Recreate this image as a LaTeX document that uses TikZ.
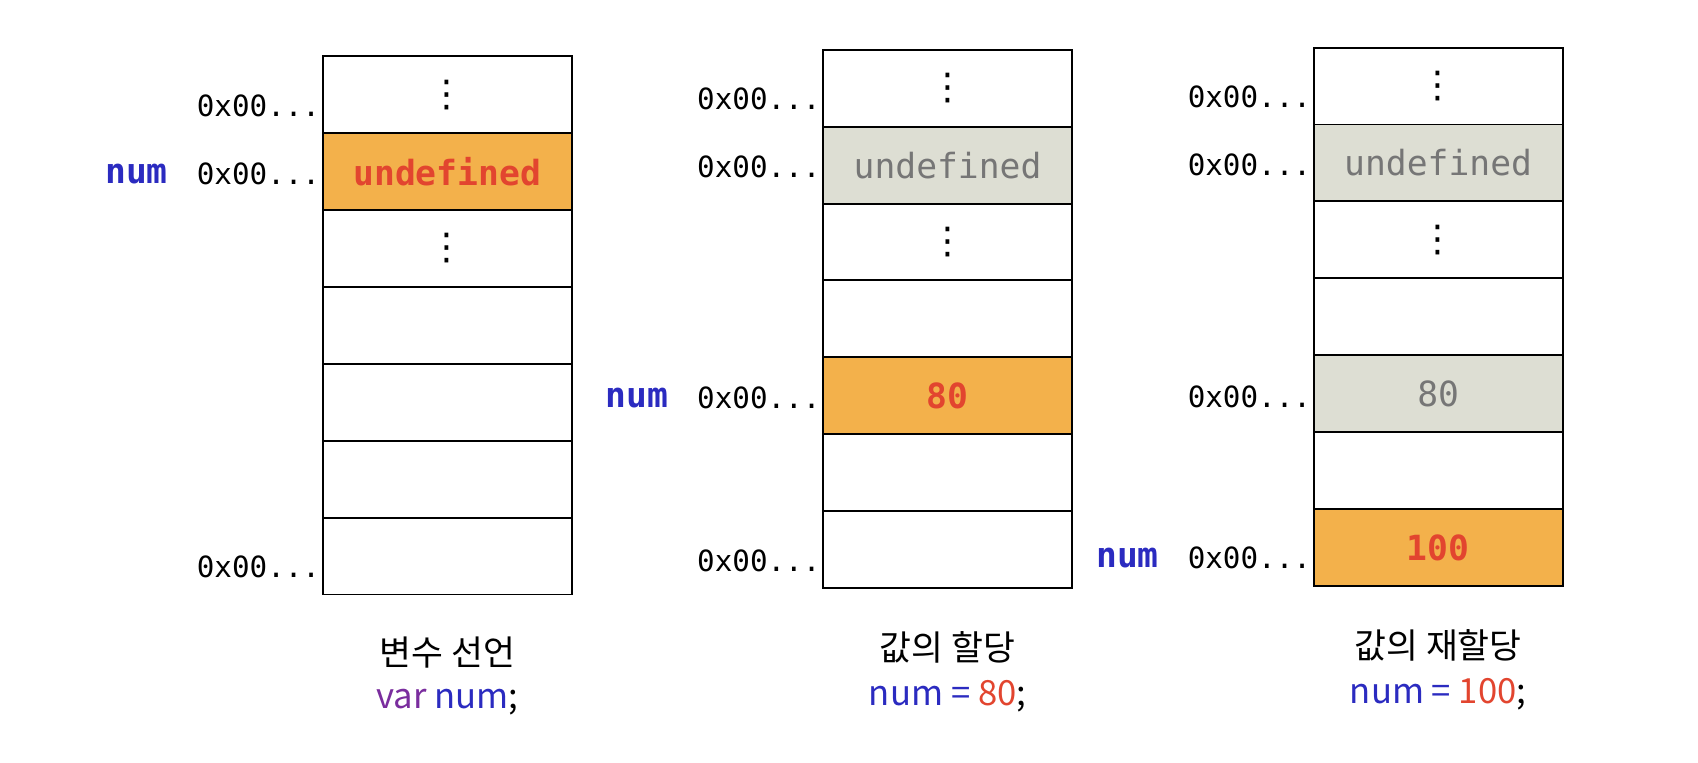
\documentclass[tikz,border=0pt]{standalone}
\usepackage{fontspec}
\usetikzlibrary{positioning}

\newfontfamily\monofont{DejaVu Sans Mono}
\newfontfamily\dotfont{DejaVu Sans}
\newfontfamily\krfont{Noto Sans CJK KR}

\definecolor{cellorange}{HTML}{F3B14B}
\definecolor{cellgray}{HTML}{DDDED3}
\definecolor{valred}{HTML}{E2452F}
\definecolor{numblue}{HTML}{2B2BC0}
\definecolor{varpurple}{HTML}{7A2D9E}
\definecolor{oldgray}{HTML}{767676}

\tikzset{
	cell/.style={draw=black, line width=0.9pt, minimum width=115pt, minimum height=35.5pt, inner sep=0pt, outer sep=0pt, font=\monofont\fontsize{16}{18}\selectfont},
	used/.style={cell, fill=cellorange, text=valred, font=\monofont\bfseries\fontsize{16}{18}\selectfont},
	old/.style={cell, fill=cellgray, text=oldgray},
	dots/.style={cell, font=\dotfont\fontsize{17}{19}\selectfont},
	addr/.style={anchor=east, inner sep=1pt, font=\monofont\fontsize{13.5}{16}\selectfont},
	numlbl/.style={inner sep=1pt, text=numblue, font=\monofont\bfseries\fontsize{16}{18}\selectfont},
	caption/.style={inner sep=1pt, font=\krfont\fontsize{16}{19}\selectfont},
}

\begin{document}
\begin{tikzpicture}[x=0.5pt,y=0.5pt,yscale=-1,xscale=1]
				\useasboundingbox (0,0) rectangle (1568,704);

				%Memory: variable declaration
				\node[dots] (a1) at (413,87.5) {⋮};
				\node[used, below=0pt of a1] (a2) {undefined};
				\node[dots, below=0pt of a2] (a3) {⋮};
				\node[cell, below=0pt of a3] (a4) {};
				\node[cell, below=0pt of a4] (a5) {};
				\node[cell, below=0pt of a5] (a6) {};
				\node[cell, below=0pt of a6] (a7) {};

				%Memory: assignment
				\node[dots] (b1) at (875,81.5) {⋮};
				\node[old, below=0pt of b1] (b2) {undefined};
				\node[dots, below=0pt of b2] (b3) {⋮};
				\node[cell, below=0pt of b3] (b4) {};
				\node[used, below=0pt of b4] (b5) {80};
				\node[cell, below=0pt of b5] (b6) {};
				\node[cell, below=0pt of b6] (b7) {};

				%Memory: reassignment
				\node[dots] (c1) at (1328,79.5) {⋮};
				\node[old, below=0pt of c1] (c2) {undefined};
				\node[dots, below=0pt of c2] (c3) {⋮};
				\node[cell, below=0pt of c3] (c4) {};
				\node[old, below=0pt of c4] (c5) {80};
				\node[cell, below=0pt of c5] (c6) {};
				\node[used, below=0pt of c6] (c7) {100};

				% Address Nodes
				\node[addr] (a1x) at ([yshift=5pt]a1.west) {0x00...};
				\node[addr] (a2x) at ([yshift=1pt]a2.west) {0x00...};
				\node[addr] (a7x) at ([yshift=5pt]a7.west) {0x00...};
				\node[addr] (b1x) at ([yshift=5pt]b1.west) {0x00...};
				\node[addr] (b2x) at ([yshift=1pt]b2.west) {0x00...};
				\node[addr] (b5x) at ([yshift=1pt]b5.west) {0x00...};
				\node[addr] (b7x) at ([yshift=5pt]b7.west) {0x00...};
				\node[addr] (c1x) at ([yshift=5pt]c1.west) {0x00...};
				\node[addr] (c2x) at ([yshift=1pt]c2.west) {0x00...};
				\node[addr] (c5x) at ([yshift=1.5pt]c5.west) {0x00...};
				\node[addr] (c7x) at ([yshift=5pt]c7.west) {0x00...};

				% Variable Nodes
				\node[numlbl, left=11pt of a2x] (a2n) {num};
				\node[numlbl, left=11pt of b5x] (b5n) {num};
				\node[numlbl, left=11pt of c7x] (c7n) {num};

				% Caption Nodes
				\node[caption] (cap1) at (413,603) {변수 선언};
				\node[caption] (code1) at (413,648) {\textcolor{varpurple}{var} \textcolor{numblue}{num};};
				\node[caption] (cap2) at (875,598) {값의 할당};
				\node[caption] (code2) at (875,643) {\textcolor{numblue}{num =} \textcolor{valred}{80};};
				\node[caption] (cap3) at (1328,596) {값의 재할당};
				\node[caption] (code3) at (1328,641) {\textcolor{numblue}{num =} \textcolor{valred}{100};};

\end{tikzpicture}
\end{document}
